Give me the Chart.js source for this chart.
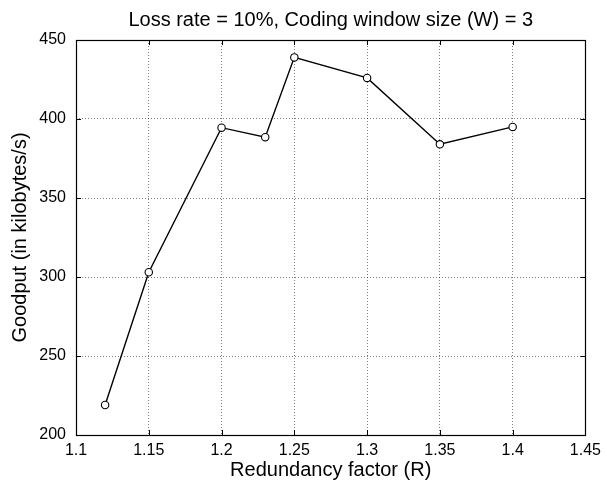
<!DOCTYPE html>
<html>
<head>
<meta charset="utf-8">
<script src="https://cdn.jsdelivr.net/npm/chart.js@4/dist/chart.umd.min.js"></script>
<style>
html,body{margin:0;padding:0;background:#fff;}
#wrap{width:607px;height:484px;position:relative;}
</style>
</head>
<body>
<div id="wrap"><canvas id="c" width="607" height="484"></canvas></div>
<script>
const redundancy = [1.12, 1.15, 1.2, 1.23, 1.25, 1.3, 1.35, 1.4];
const goodput = [219, 303, 394.5, 388.5, 439, 426, 384, 395];
const xTicks = [1.1, 1.15, 1.2, 1.25, 1.3, 1.35, 1.4, 1.45];
const yTicks = [200, 250, 300, 350, 400, 450];
const chartTitle = 'Loss rate = 10%, Coding window size (W) = 3';
const xTitle = 'Redundancy factor (R)';
const yTitle = 'Goodput (in kilobytes/s)';

const FONT = "'Liberation Sans', Arial, Helvetica, sans-serif";

const axesTitle = {
  id: 'axesTitle',
  afterDraw(chart) {
    const {ctx, chartArea: a} = chart;
    ctx.save();
    ctx.fillStyle = '#000';
    ctx.font = '20px ' + FONT;
    ctx.textAlign = 'center';
    ctx.textBaseline = 'alphabetic';
    ctx.fillText(chartTitle, (a.left + a.right) / 2, 26);
    ctx.restore();
  }
};

const frameAndTicks = {
  id: 'frameAndTicks',
  afterDatasetsDraw(chart) {
    const {ctx, chartArea: a, scales: {x, y}} = chart;
    ctx.save();
    ctx.strokeStyle = '#000';
    ctx.lineWidth = 1;
    const L = 5;
    ctx.beginPath();
    xTicks.forEach(v => {
      const px = Math.round(x.getPixelForValue(v)) + 0.5;
      ctx.moveTo(px, a.bottom); ctx.lineTo(px, a.bottom - L);
      ctx.moveTo(px, a.top); ctx.lineTo(px, a.top + L);
    });
    yTicks.forEach(v => {
      const py = Math.round(y.getPixelForValue(v)) + 0.5;
      ctx.moveTo(a.left, py); ctx.lineTo(a.left + L, py);
      ctx.moveTo(a.right, py); ctx.lineTo(a.right - L, py);
    });
    ctx.stroke();
    ctx.lineWidth = 1.2;
    ctx.strokeRect(Math.round(a.left) + 0.5, Math.round(a.top) + 0.5,
                   Math.round(a.right - a.left), Math.round(a.bottom - a.top));
    ctx.restore();
  }
};

new Chart(document.getElementById('c'), {
  type: 'line',
  data: {
    datasets: [{
      data: redundancy.map((r, i) => ({x: r, y: goodput[i]})),
      borderColor: '#000',
      borderWidth: 1.4,
      pointRadius: 3.7,
      pointBackgroundColor: '#fff',
      pointBorderColor: '#000',
      pointBorderWidth: 1.1,
      tension: 0,
      fill: false
    }]
  },
  options: {
    responsive: false,
    animation: false,
    devicePixelRatio: 1,
    layout: {padding: {left: 0, right: 20, top: 40, bottom: 0}},
    plugins: {
      legend: {display: false},
      tooltip: {enabled: false},
      title: {display: false}
    },
    scales: {
      x: {
        type: 'linear',
        min: 1.1, max: 1.45,
        afterBuildTicks: s => { s.ticks = xTicks.map(v => ({value: v})); },
        afterFit: s => { s.height = 49; },
        ticks: {
          color: '#000',
          font: {family: FONT, size: 16},
          padding: 6,
          maxRotation: 0,
          autoSkip: false,
          callback: v => String(v)
        },
        grid: {
          color: ctx => (ctx.tick && (ctx.tick.value === 1.1 || ctx.tick.value === 1.45)) ? 'rgba(0,0,0,0)' : 'rgba(0,0,0,0.5)',
          lineWidth: 1,
          drawTicks: false
        },
        border: {display: false, dash: [1, 2]},
        title: {
          display: true,
          text: xTitle,
          color: '#000',
          font: {family: FONT, size: 20},
          padding: {top: 0, bottom: 2}
        }
      },
      y: {
        type: 'linear',
        min: 200, max: 450,
        afterBuildTicks: s => { s.ticks = yTicks.map(v => ({value: v})); },
        afterFit: s => { s.width = 76; },
        ticks: {
          color: '#000',
          font: {family: FONT, size: 16},
          padding: 10,
          callback: v => String(v)
        },
        grid: {
          color: ctx => (ctx.tick && (ctx.tick.value === 200 || ctx.tick.value === 450)) ? 'rgba(0,0,0,0)' : 'rgba(0,0,0,0.5)',
          lineWidth: 1,
          drawTicks: false
        },
        border: {display: false, dash: [1, 2]},
        title: {
          display: true,
          text: yTitle,
          color: '#000',
          font: {family: FONT, size: 20},
          padding: {top: 8, bottom: 0}
        }
      }
    }
  },
  plugins: [frameAndTicks, axesTitle]
});
</script>
</body>
</html>
